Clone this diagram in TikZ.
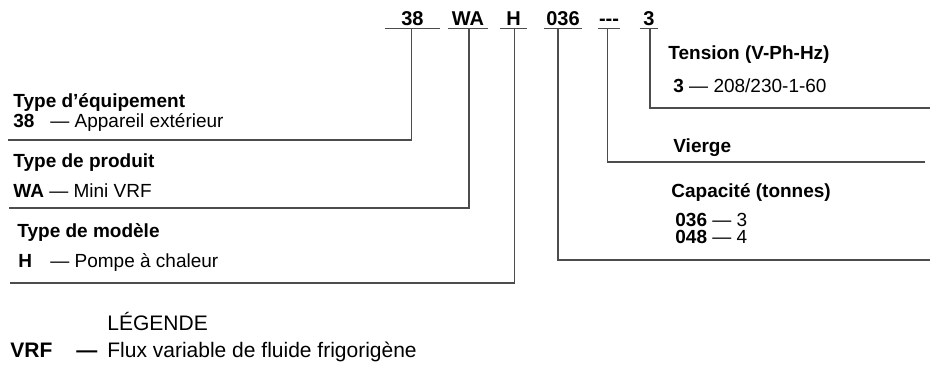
\documentclass[tikz,border=0pt]{standalone}
\usepackage{fontspec}
\setmainfont{Liberation Sans}
\usetikzlibrary{positioning}

\tikzset{
    lead/.style={draw=black!70, line width=0.6pt},
    code/.style={font=\fontsize{10}{12}\selectfont\bfseries, inner sep=0pt, text depth=1.5pt, minimum width=#1, anchor=base},
    head/.style={font=\fontsize{9.5}{11}\selectfont\bfseries, inner sep=0pt, anchor=base west},
    item/.style={font=\fontsize{9.5}{11}\selectfont, inner sep=0pt, anchor=base west},
    legend/.style={font=\fontsize{10.5}{12}\selectfont, inner sep=0pt, anchor=base west},
}

\begin{document}
\begin{tikzpicture}[x=0.5pt, y=-0.5pt]
    \useasboundingbox (0,0) rectangle (933,365);

    % model number
    \node[code=27.5pt] (c38) at (412.5,25) {38};
    \node[code=20pt] (cWA) at (468,25) {WA};
    \node[code=13.5pt] (cH) at (513.5,25) {H};
    \node[code=18.5pt] (c036) at (563,25) {036};
    \node[code=11pt] (cblank) at (609,25) {-\kern0pt-\kern0pt-};
    \node[code=9pt] (c3) at (649,25) {3};

    \coordinate (k38) at (411.5,140);
    \coordinate (e38) at (8,140);
    \coordinate (kWA) at (469,208);
    \coordinate (eWA) at (9,208);
    \coordinate (kH) at (514.5,283);
    \coordinate (eH) at (10,283);
    \coordinate (k036) at (558,260);
    \coordinate (e036) at (930,260);
    \coordinate (kblank) at (607.5,162);
    \coordinate (eblank) at (925,162);
    \coordinate (k3) at (650,108);
    \coordinate (e3) at (930,108);

    \draw[lead] (c38.south west) -- (c38.south east);
    \draw[lead] (cWA.south west) -- (cWA.south east);
    \draw[lead] (cH.south west) -- (cH.south east);
    \draw[lead] (c036.south west) -- (c036.south east);
    \draw[lead] (cblank.south west) -- (cblank.south east);
    \draw[lead] (c3.south west) -- (c3.south east);

    \draw[lead] (c38.south -| k38) -- (k38) -- (e38);
    \draw[lead] (cWA.south -| kWA) -- (kWA) -- (eWA);
    \draw[lead] (cH.south -| kH) -- (kH) -- (eH);
    \draw[lead] (c036.south -| k036) -- (k036) -- (e036);
    \draw[lead] (cblank.south -| kblank) -- (kblank) -- (eblank);
    \draw[lead] (c3.south -| k3) -- (k3) -- (e3);

    % left column
    \node[head] (equip) at (13,107) {Type d’équipement};
    \node[item] (equipval) at (13,127) {\makebox[18.5pt][l]{\bfseries 38}— Appareil extérieur};
    \node[head] (produit) at (13,167) {Type de produit};
    \node[item] (produitval) at (13,197) {\textbf{WA} — Mini VRF};
    \node[head] (modele) at (17,237) {Type de modèle};
    \node[item] (modeleval) at (18,267) {\makebox[16pt][l]{\bfseries H}— Pompe à chaleur};

    % right column
    \node[head] (tension) at (668,59) {Tension (V-Ph-Hz)};
    \node[item] (tensionval) at (673,92) {\textbf{3} — 208/230-1-60};
    \node[head] (vierge) at (673,152) {Vierge};
    \node[head] (capacite) at (671,197) {Capacité (tonnes)};
    \node[item] (cap36) at (675,226) {\textbf{036} — 3};
    \node[item] (cap48) at (675,243) {\textbf{048} — 4};

    % legend
    \node[legend] (legende) at (107,330) {LÉGENDE};
    \node[legend] (vrf) at (10,357) {\bfseries\makebox[33pt][l]{VRF}—\hspace{5pt}\mdseries Flux variable de fluide frigorigène};
\end{tikzpicture}
\end{document}
